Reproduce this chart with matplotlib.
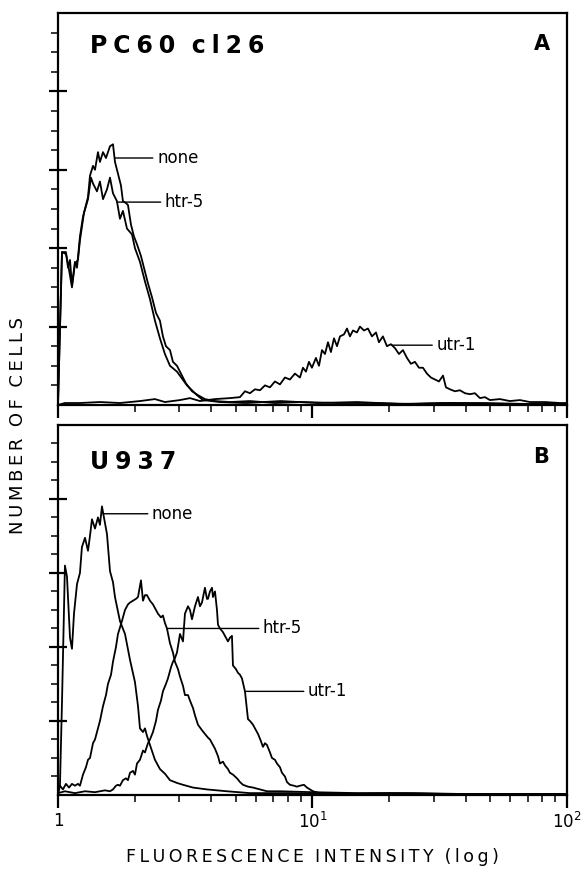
import matplotlib
matplotlib.use("Agg")
import matplotlib.pyplot as plt
from matplotlib.ticker import FixedLocator, NullFormatter, FixedFormatter

plt.rcParams["font.family"] = ["DejaVu Sans"]

# ---- Panel A: PC60 cl26 (fluorescence intensity, number of cells) ----
a_none_x = [1.000, 1.037, 1.075, 1.095, 1.115, 1.135, 1.166, 1.188, 1.220, 1.254,
            1.277, 1.312, 1.336, 1.373, 1.398, 1.436, 1.462, 1.503, 1.544, 1.601,
            1.645, 1.675, 1.721, 1.768, 1.800, 1.850, 1.884, 1.936, 1.989, 2.044,
            2.119, 2.197, 2.258, 2.341, 2.427, 2.516, 2.585, 2.656, 2.755, 2.830,
            2.935, 3.043, 3.184, 3.362, 3.549, 3.780, 4.140, 4.740, 5.68, 7.12,
            9.0, 12.5, 17, 25, 35, 50, 70, 100]
a_none_y = [0.0, 7.8, 7.8, 7.0, 7.4, 6.1, 7.3, 7.0, 8.6, 9.6,
            10.0, 10.6, 11.7, 12.2, 12.0, 12.9, 12.4, 12.9, 12.6, 13.2,
            13.3, 12.4, 11.8, 11.2, 10.4, 10.3, 10.2, 9.2, 8.6, 8.2,
            7.6, 6.8, 6.2, 5.5, 4.7, 4.3, 3.5, 3.0, 2.8, 2.2,
            2.0, 1.6, 1.1, 0.7, 0.5, 0.3, 0.2, 0.15, 0.2, 0.1,
            0.15, 0.1, 0.1, 0.05, 0.1, 0.05, 0.05, 0.05]

a_htr5_x = [1.000, 1.037, 1.075, 1.095, 1.135, 1.166, 1.198, 1.220, 1.265, 1.312,
            1.348, 1.373, 1.423, 1.462, 1.503, 1.558, 1.601, 1.645, 1.705, 1.752,
            1.800, 1.867, 1.954, 2.007, 2.100, 2.197, 2.299, 2.405, 2.516, 2.632,
            2.755, 2.935, 3.213, 3.518, 3.713, 4.331, 5.5, 7.5, 10.5, 15,
            22, 32, 48, 70, 100]
a_htr5_y = [0.0, 7.8, 7.7, 7.2, 6.0, 7.2, 7.4, 8.4, 9.8, 10.5,
            11.6, 11.3, 10.9, 11.4, 10.5, 11.0, 11.6, 10.8, 10.4, 9.5,
            9.9, 9.0, 8.7, 8.0, 7.3, 6.3, 5.4, 4.3, 3.4, 2.6,
            2.0, 1.7, 1.0, 0.5, 0.25, 0.15, 0.1, 0.2, 0.1, 0.15,
            0.05, 0.1, 0.1, 0.05, 0.05]

a_utr1_x = [1.000, 1.065, 1.220, 1.462, 1.752, 2.100, 2.405, 2.632, 3.016, 3.302,
            3.614, 4.140, 4.740, 5.190, 5.430, 5.682, 5.945, 6.221, 6.508, 6.808,
            7.124, 7.453, 7.797, 8.157, 8.535, 8.930, 9.177, 9.430, 9.688, 9.954,
            10.32, 10.61, 10.90, 11.20, 11.51, 11.82, 12.15, 12.49, 12.83, 13.30,
            13.67, 14.04, 14.43, 14.96, 15.37, 15.94, 16.52, 17.13, 17.77, 18.25,
            18.92, 19.62, 20.34, 21.10, 21.88, 22.68, 23.52, 24.38, 25.28, 26.21,
            27.18, 28.18, 29.22, 30.29, 31.42, 32.58, 33.47, 34.70, 36.30, 37.98,
            39.74, 41.58, 43.50, 45.52, 47.63, 49.82, 54.56, 59.70, 65.36, 71.54,
            81.98, 93.86, 100]
a_utr1_y = [0.0, 0.1, 0.1, 0.15, 0.1, 0.2, 0.3, 0.15, 0.25, 0.35,
            0.2, 0.3, 0.35, 0.4, 0.7, 0.6, 0.8, 0.75, 1.0, 0.9,
            1.2, 1.05, 1.4, 1.3, 1.6, 1.4, 1.9, 1.7, 2.2, 1.9,
            2.4, 2.0, 2.8, 2.6, 3.2, 2.7, 3.4, 3.0, 3.5, 3.6,
            3.9, 3.5, 3.8, 3.7, 4.0, 3.8, 3.9, 3.5, 3.7, 3.2,
            3.5, 3.0, 3.1, 2.9, 2.6, 2.8, 2.4, 2.1, 2.2, 1.9,
            1.9, 1.6, 1.4, 1.3, 1.2, 1.5, 0.9, 0.8, 0.7, 0.75,
            0.6, 0.55, 0.6, 0.35, 0.4, 0.25, 0.3, 0.2, 0.25, 0.15,
            0.15, 0.1, 0.1]

# ---- Panel B: U937 ----
b_none_x = [1.000, 1.018, 1.037, 1.065, 1.085, 1.115, 1.135, 1.156, 1.188, 1.220,
            1.242, 1.277, 1.312, 1.336, 1.360, 1.398, 1.436, 1.462, 1.489, 1.516,
            1.558, 1.601, 1.645, 1.675, 1.752, 1.834, 1.919, 2.007, 2.063, 2.100,
            2.158, 2.197, 2.237, 2.299, 2.405, 2.516, 2.632, 2.755, 2.935, 3.099,
            3.393, 3.850, 4.613, 5.682, 8, 12, 20, 35, 60, 100]
b_none_y = [0.0, 0.5, 5.0, 12.4, 11.8, 8.5, 7.9, 9.8, 11.4, 12.0,
            13.4, 13.9, 13.2, 14.0, 14.9, 14.4, 15.0, 14.6, 15.6, 15.0,
            14.1, 12.1, 11.5, 10.7, 9.4, 8.7, 7.3, 6.1, 4.8, 3.6,
            3.4, 3.6, 3.2, 2.7, 1.9, 1.4, 1.15, 0.8, 0.65, 0.55,
            0.4, 0.3, 0.2, 0.1, 0.1, 0.05, 0.1, 0.05, 0.05, 0.05]

b_htr5_x = [1.000, 1.018, 1.046, 1.075, 1.105, 1.135, 1.166, 1.198, 1.220, 1.254,
            1.288, 1.312, 1.336, 1.373, 1.398, 1.436, 1.462, 1.503, 1.544, 1.572,
            1.616, 1.645, 1.690, 1.721, 1.784, 1.834, 1.884, 1.919, 1.971, 2.026,
            2.063, 2.119, 2.158, 2.197, 2.237, 2.299, 2.362, 2.427, 2.471, 2.539,
            2.585, 2.632, 2.681, 2.755, 2.830, 2.882, 2.962, 3.016, 3.099, 3.155,
            3.243, 3.302, 3.393, 3.455, 3.549, 3.680, 3.780, 3.885, 3.956, 4.029,
            4.140, 4.254, 4.331, 4.450, 4.532, 4.656, 4.740, 4.871, 5.051, 5.190,
            5.332, 5.580, 5.838, 6.221, 6.627, 7.453, 10, 15, 25, 40, 65, 100]
b_htr5_y = [0.2, 0.5, 0.3, 0.6, 0.4, 0.6, 0.5, 0.6, 0.5, 1.1,
            1.5, 1.9, 2.0, 2.8, 3.0, 3.6, 4.0, 4.8, 5.4, 6.0,
            6.5, 7.2, 8.0, 8.7, 9.4, 10.0, 10.3, 10.4, 10.5, 10.6,
            10.7, 11.6, 10.5, 10.8, 10.8, 10.5, 10.3, 10.0, 9.8, 9.6,
            9.7, 9.3, 9.0, 8.2, 7.7, 7.2, 6.8, 6.4, 5.9, 5.4,
            5.4, 5.1, 4.7, 4.3, 3.8, 3.5, 3.3, 3.1, 3.0, 2.8,
            2.5, 2.1, 1.7, 1.8, 1.6, 1.4, 1.2, 1.1, 0.9, 0.7,
            0.55, 0.45, 0.4, 0.3, 0.2, 0.2, 0.15, 0.1, 0.1, 0.05, 0.05, 0.05]

b_utr1_x = [1.000, 1.065, 1.166, 1.277, 1.398, 1.530, 1.601, 1.645, 1.690, 1.721,
            1.752, 1.800, 1.850, 1.884, 1.919, 1.971, 2.007, 2.044, 2.100, 2.158,
            2.197, 2.258, 2.299, 2.362, 2.427, 2.471, 2.539, 2.585, 2.656, 2.705,
            2.780, 2.830, 2.882, 2.935, 3.016, 3.099, 3.155, 3.243, 3.302, 3.362,
            3.455, 3.549, 3.614, 3.680, 3.780, 3.850, 3.885, 3.956, 4.029, 4.065,
            4.140, 4.215, 4.254, 4.331, 4.450, 4.572, 4.656, 4.740, 4.827, 4.871,
            5.005, 5.098, 5.190, 5.284, 5.430, 5.580, 5.682, 5.838, 5.998, 6.110,
            6.277, 6.391, 6.508, 6.627, 6.808, 6.933, 7.124, 7.254, 7.453, 7.590,
            7.797, 7.940, 8.157, 8.458, 8.691, 8.930, 9.260, 9.515, 9.777, 10.05,
            10.70, 15, 25, 40, 65, 100]
b_utr1_y = [0.1, 0.2, 0.1, 0.2, 0.15, 0.25, 0.2, 0.3, 0.5, 0.55,
            0.5, 0.8, 0.9, 0.8, 1.2, 1.3, 1.1, 1.7, 1.9, 2.4,
            2.3, 2.8, 3.0, 3.4, 4.0, 4.6, 5.1, 5.6, 6.0, 6.3,
            6.9, 7.2, 7.4, 7.7, 8.7, 8.3, 9.8, 10.2, 10.0, 9.5,
            10.2, 10.7, 10.2, 10.4, 11.2, 10.6, 10.6, 11.0, 11.2, 10.7,
            11.0, 10.0, 9.2, 9.0, 8.8, 8.5, 8.3, 8.5, 8.6, 7.0,
            6.8, 6.6, 6.5, 6.3, 5.6, 4.1, 4.0, 3.8, 3.5, 3.3,
            2.9, 2.6, 2.8, 2.7, 2.3, 2.0, 1.9, 1.7, 1.5, 1.2,
            1.0, 0.7, 0.55, 0.5, 0.45, 0.5, 0.55, 0.4, 0.3, 0.2,
            0.1, 0.05, 0.05, 0.05, 0.05, 0.05]

# ラベル（曲線名, 曲線上の点, 文字の位置）
a_labels = [("none", (1.68, 12.6), (2.45, 12.6)),
            ("htr-5", (1.70, 10.35), (2.63, 10.35)),
            ("utr-1", (20.5, 3.05), (30.7, 3.05))]
b_labels = [("none", (1.50, 15.2), (2.34, 15.2)),
            ("htr-5", (2.68, 9.0), (6.39, 9.0)),
            ("utr-1", (5.43, 5.6), (9.6, 5.6))]

X_TICKS = [1, 10, 100]
X_TICK_LABELS = ["1", "$10^1$", "$10^2$"]
Y_MAJOR = [4, 8, 12, 16]
Y_MINOR = [v for v in range(1, 20) if v not in Y_MAJOR]

SP = "\u2005"   # 字間用の細いスペース
TH = "\u2009"


def spaced(s, gap):
    # 文字の間に細いスペースを入れて横に広げる
    return gap.join(s)


def style_axis(ax, show_xlabels):
    ax.set_xscale("log")
    ax.set_xlim(1, 100)
    ax.set_ylim(0, 20)
    for s in ax.spines.values():
        s.set_linewidth(1.6)
    ax.xaxis.set_major_locator(FixedLocator(X_TICKS))
    if show_xlabels:
        ax.xaxis.set_major_formatter(FixedFormatter(X_TICK_LABELS))
    else:
        ax.xaxis.set_major_formatter(NullFormatter())
    ax.xaxis.set_minor_formatter(NullFormatter())
    ax.yaxis.set_major_locator(FixedLocator(Y_MAJOR))
    ax.yaxis.set_minor_locator(FixedLocator(Y_MINOR))
    ax.yaxis.set_major_formatter(NullFormatter())
    ax.tick_params(axis="x", which="major", direction="out", length=9, width=1.6,
                   labelsize=12, pad=3)
    ax.tick_params(axis="x", which="minor", direction="out", length=5, width=1.1)
    ax.tick_params(axis="y", which="major", direction="inout", length=13, width=1.6)
    ax.tick_params(axis="y", which="minor", direction="out", length=5, width=1.1)


def draw_panel(ax, curves, labels, title, letter, title_y, letter_y):
    for xs, ys in curves:
        ax.plot(xs, ys, color="black", linewidth=1.3)
    for text, xy, xytext in labels:
        ax.annotate(text, xy=xy, xytext=xytext, fontsize=12, va="center", ha="left",
                    arrowprops=dict(arrowstyle="-", color="black", lw=1.0,
                                    shrinkA=1, shrinkB=0))
    ax.text(0.063, title_y, title, transform=ax.transAxes, fontsize=17,
            fontweight="bold", va="center", ha="left")
    ax.text(0.95, letter_y, letter, transform=ax.transAxes, fontsize=15,
            fontweight="bold", va="center", ha="center")


fig = plt.figure(figsize=(5.85, 8.76), dpi=100)
ax_a = fig.add_axes([0.0991, 0.5377, 0.870, 0.4475])
ax_b = fig.add_axes([0.0991, 0.0925, 0.870, 0.4224])

title_a = spaced("PC60", SP) + "  " + spaced("cl26", SP)
title_b = spaced("U937", SP)
draw_panel(ax_a, [(a_none_x, a_none_y), (a_htr5_x, a_htr5_y), (a_utr1_x, a_utr1_y)],
           a_labels, title_a, "A", 0.915, 0.922)
draw_panel(ax_b, [(b_none_x, b_none_y), (b_htr5_x, b_htr5_y), (b_utr1_x, b_utr1_y)],
           b_labels, title_b, "B", 0.90, 0.914)
style_axis(ax_a, False)
style_axis(ax_b, True)

xlabel = "  ".join(spaced(w, TH) for w in ["FLUORESCENCE", "INTENSITY", "(log)"])
ylabel = "  ".join(spaced(w, TH) for w in ["NUMBER", "OF", "CELLS"])
ax_b.set_xlabel(xlabel, fontsize=12.5, labelpad=12)
fig.text(0.031, 0.514, ylabel, rotation=90, fontsize=13, va="center", ha="center")

fig.savefig("out.png", dpi=100)
